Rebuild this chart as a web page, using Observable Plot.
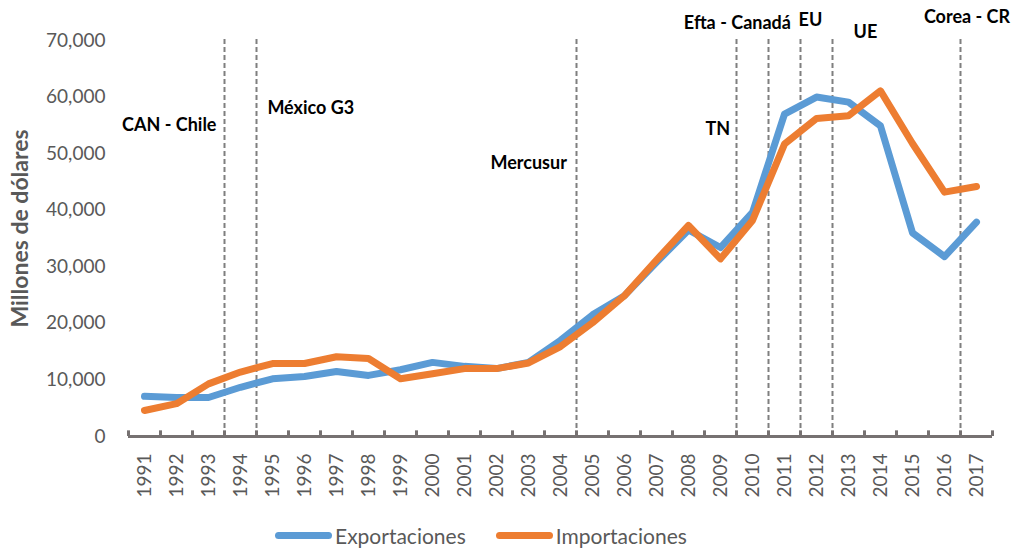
<!DOCTYPE html>
<html>
<head>
<meta charset="utf-8">
<script src="https://cdn.jsdelivr.net/npm/d3@7"></script>
<script src="https://cdn.jsdelivr.net/npm/@observablehq/plot@0.6"></script>
<style>
  body { margin: 0; background: #fff; font-family: Lato, "Open Sans", sans-serif; }
  #wrap { position: relative; width: 1011px; height: 548px; }
  #legend { position: absolute; left: 275px; top: 523px; display: flex; align-items: center; font-size: 21px; color: #595959; font-family: Lato, sans-serif; }
  .sw { width: 57px; height: 7px; border-radius: 4px; margin-right: 3px; }
</style>
</head>
<body>
<div id="wrap">
  <div id="chart"></div>
  <div id="legend"></div>
</div>
<script>
const years = [1991,1992,1993,1994,1995,1996,1997,1998,1999,2000,2001,2002,2003,2004,2005,2006,2007,2008,2009,2010,2011,2012,2013,2014,2015,2016,2017];
const exportaciones = [7100,6900,6900,8700,10200,10600,11500,10800,11800,13100,12400,12000,13100,17000,21500,24900,30800,36500,33400,39600,57000,60000,59100,54900,36000,31800,37900];
const importaciones = [4600,5800,9300,11400,12900,12900,14100,13800,10200,11100,12000,12000,13000,15900,20100,24900,31200,37300,31400,38200,51700,56200,56700,61100,51800,43200,44200];
const seriesNames = ["Exportaciones", "Importaciones"];
const seriesColors = ["#5B9BD5", "#ED7D31"];

// Trade agreements: name and the boundary (between two years) where the dashed line is drawn
const agreementNames = ["CAN - Chile", "México G3", "Mercusur", "TN", "Efta - Canadá", "EU", "UE", "Corea - CR"];
const agreementLines = [1993.5, 1994.5, 2004.5, 2009.5, 2010.5, 2011.5, 2012.5, 2016.5];
// label anchor positions in data units
const labelX = [1993.25, 1994.84, 2004.2, 2009.3, 2011.2, 2011.44, 2013.16, 2018.05];
const labelY = [55100, 57950, 48230, 54400, 73140, 73500, 71380, 74030];
const labelAnchor = ["end", "start", "end", "end", "end", "start", "start", "end"];

const rows = [];
years.forEach((y, i) => {
  rows.push({year: y, value: exportaciones[i], serie: seriesNames[0]});
});
years.forEach((y, i) => {
  rows.push({year: y, value: importaciones[i], serie: seriesNames[1]});
});
const labels = agreementNames.map((n, i) => ({name: n, x: labelX[i], y: labelY[i], anchor: labelAnchor[i]}));
const boundaries = d3.range(years[0] - 0.5, years[years.length - 1] + 1, 1);
const labelStyle = {x: "x", y: "y", text: "name", fontSize: 18, fontWeight: "bold", fill: "#000", clip: false};

const chart = Plot.plot({
  width: 1011,
  height: 515,
  marginLeft: 128,
  marginRight: 19,
  marginTop: 40,
  marginBottom: 79,
  style: {fontFamily: "Lato, sans-serif", background: "#fff", overflow: "visible"},
  x: {type: "linear", domain: [years[0] - 0.5, years[years.length - 1] + 0.5]},
  y: {domain: [0, 70000]},
  color: {domain: seriesNames, range: seriesColors},
  marks: [
    Plot.axisY({ticks: d3.range(0, 70001, 10000), tickFormat: d3.format(","), tickSize: 0, tickPadding: 23, fontSize: 19, fill: "#595959", label: null}),
    Plot.text(["Millones de dólares"], {frameAnchor: "left", dx: -108, dy: -10, rotate: -90, fontSize: 23, fontWeight: "bold", fill: "#595959", textAnchor: "middle"}),
    Plot.axisX({ticks: years, tickFormat: d => String(d), tickRotate: -90, tickSize: 0, tickPadding: 17, fontSize: 19, fill: "#595959", label: null}),
    Plot.ruleX(agreementLines, {y1: 0, y2: 70700, stroke: "#7f7f7f", strokeWidth: 2, strokeDasharray: "5,3"}),
    Plot.ruleX(boundaries, {y1: 0, y2: 1000, stroke: "#767171", strokeWidth: 3}),
    Plot.ruleY([0], {stroke: "#767171", strokeWidth: 3}),
    Plot.line(rows, {x: "year", y: "value", z: "serie", stroke: "serie", strokeWidth: 7, strokeLinejoin: "round", strokeLinecap: "round"}),
    Plot.text(labels.filter(d => d.anchor === "end"), {...labelStyle, textAnchor: "end"}),
    Plot.text(labels.filter(d => d.anchor === "start"), {...labelStyle, textAnchor: "start"})
  ]
});
document.getElementById("chart").appendChild(chart);

const legend = document.getElementById("legend");
seriesNames.forEach((n, i) => {
  const sw = document.createElement("div");
  sw.className = "sw";
  sw.style.background = seriesColors[i];
  const t = document.createElement("span");
  t.textContent = n;
  t.style.marginRight = i === 0 ? "30px" : "0";
  legend.appendChild(sw);
  legend.appendChild(t);
});
</script>
</body>
</html>
